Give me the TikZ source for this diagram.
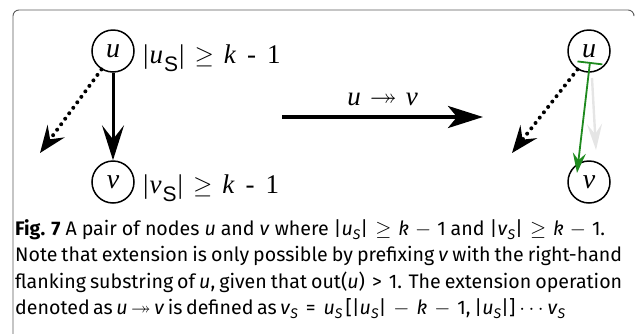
\documentclass[tikz,border=0pt]{standalone}
\usepackage{fontspec}
\usepackage{amssymb}
\setmainfont{Liberation Serif}
\newfontfamily\capfont{Fira Sans}
\newfontfamily\subsans{Liberation Sans}
\usetikzlibrary{arrows.meta}
\definecolor{framecol}{HTML}{5A5A5A}
\definecolor{grn}{HTML}{1E8A1E}
\newcommand{\dsub}[1]{\raisebox{-8pt}{\subsans\fontsize{21}{21}\selectfont #1}}
\newcommand{\csub}[1]{\raisebox{-4pt}{\fontsize{14}{14}\selectfont\itshape #1}}
\newcommand{\dgeq}{\ensuremath{\geq}}
\newcommand{\cminus}{\ensuremath{-}}
\tikzset{
  circ/.style={draw, circle, line width=1.5pt, minimum size=42pt, inner sep=0pt,
    font=\fontsize{28}{28}\selectfont\itshape},
  dlbl/.style={anchor=base west, inner sep=0pt, font=\fontsize{27}{28}\selectfont},
  solidarr/.style={line width=3pt, -{Stealth[length=35pt,width=22pt,inset=14pt]}},
  bigarr/.style={line width=4pt, -{Stealth[length=35pt,width=22pt,inset=9pt]}},
  dotarr/.style={line width=4pt, dash pattern=on 0pt off 6.8pt, line cap=round,
    -{Stealth[length=27pt,width=21pt,inset=10pt]}},
  grnarr/.style={grn, line width=1.8pt, {Bar[width=25pt,line width=1.8pt]}-{Stealth[length=20pt,width=13pt,inset=7pt]}},
  ghostarr/.style={black!10, line width=2.4pt, -{Stealth[length=26pt,width=15pt,inset=10pt]}},
  capline/.style={anchor=base west, inner sep=0pt, font=\capfont\fontsize{19.6}{22}\selectfont},
}
\begin{document}
\begin{tikzpicture}[x=1pt,y=-1pt]
\useasboundingbox (0,0) rectangle (635,333);
% frame
\draw[framecol, line width=0.9pt, rounded corners=6pt] (13,340) -- (13,10) -- (634,10) -- (634,14);
% left graph
\node[circ] (u1) at (113,51) {u};
\node[circ] (v1) at (113,182) {v};
\node[dlbl] (lu) at (143,63) {|\hspace{1pt}\textit{u}\hspace{1pt}\dsub{S}\hspace{1pt}|\hspace{10pt}\dgeq\hspace{10pt}\textit{k}\hspace{11pt}-\hspace{11pt}1};
\node[dlbl] (lv) at (143,193) {|\hspace{1pt}\textit{v}\hspace{1pt}\dsub{S}\hspace{1pt}|\hspace{10pt}\dgeq\hspace{10pt}\textit{k}\hspace{11pt}-\hspace{11pt}1};
\draw[solidarr] (u1) -- (v1);
\coordinate (d1) at (40,153);
\draw[dotarr] (u1.-122) -- (d1);
% big arrow
\coordinate (a0) at (282,117);
\coordinate (a1) at (483,117);
\draw[bigarr] (a0) -- node[above=9pt, inner sep=0pt, font=\fontsize{27}{28}\selectfont] (lab) {\textit{u}\hspace{9pt}$\twoheadrightarrow$\hspace{9pt}\textit{v}} (a1);
% right graph
\node[circ] (u2) at (589,51) {u};
\node[circ] (v2) at (589,182) {v};
\coordinate (d2) at (512,153);
\draw[dotarr] (u2.-122) -- (d2);
\coordinate (h0) at (592,78);
\coordinate (h1) at (596,150);
\draw[ghostarr] (h0) -- (h1);
\coordinate (g0) at (590,62);
\coordinate (g1) at (577,173);
\draw[grnarr] (g0) -- (g1);
% caption
\node[capline] (c1) at (15,235) {\makebox[590pt][s]{\textbf{Fig. 7} A pair of nodes \textit{u} and \textit{v} where |\textit{u}\csub{S}|\hspace{7pt}\dgeq\hspace{7pt}\textit{k}\hspace{6pt}\cminus\hspace{6pt}1 and |\textit{v}\csub{S}|\hspace{7pt}\dgeq\hspace{7pt}\textit{k}\hspace{6pt}\cminus\hspace{6pt}1.}};
\node[capline] (c2) at (15,261.5) {\makebox[607pt][s]{Note that extension is only possible by prefixing \textit{v} with the right-hand}};
\node[capline] (c3) at (15,288) {\makebox[607pt][s]{flanking substring of \textit{u}, given that out(\textit{u})\hspace{7pt}>\hspace{7pt}1. The extension operation}};
\node[capline] (c4) at (15,314.5) {\makebox[550pt][s]{denoted as \textit{u} $\twoheadrightarrow$ \textit{v} is defined as \textit{v}\csub{S}\hspace{8pt}=\hspace{8pt}\textit{u}\csub{S}\hspace{3pt}[|\textit{u}\csub{S}|\hspace{7pt}\cminus\hspace{7pt}\textit{k}\hspace{7pt}\cminus\hspace{7pt}1, |\textit{u}\csub{S}|]\hspace{4pt}$\cdots$\hspace{4pt}\textit{v}\csub{S}}};
\end{tikzpicture}
\end{document}
